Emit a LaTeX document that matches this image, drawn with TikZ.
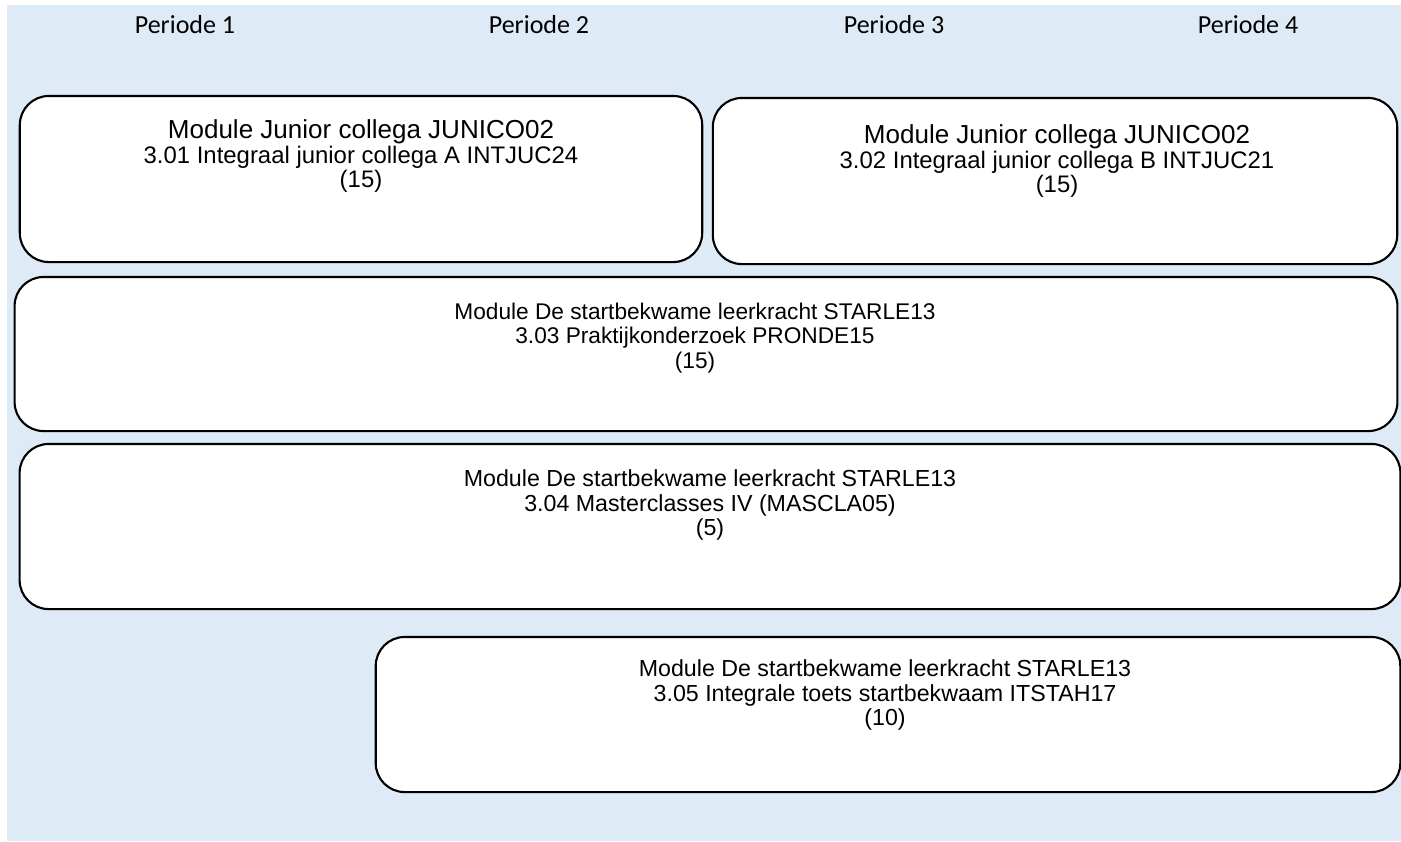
\documentclass[tikz,border=0pt]{standalone}
\usepackage{fontspec}
\setmainfont{Liberation Sans}
\newfontfamily\periodefont{Carlito}
\usetikzlibrary{positioning}
\definecolor{bgblue}{RGB}{222,234,246}
\newcommand{\boxline}{.6pt}
\newcommand{\bigtext}{\fontsize{7.4}{7}\selectfont}
\newcommand{\midtext}{\fontsize{6.8}{7}\selectfont}
\newcommand{\smalltext}{\fontsize{6.6}{7}\selectfont}

\begin{document}
\begin{tikzpicture}[x=.01cm,y=-.01cm,
    module/.style={draw, fill=white, line width=\boxline, rounded corners=.29cm, inner sep=0pt},
    modtext/.style={anchor=north, align=center, inner sep=0pt, font=\smalltext},
    periode/.style={anchor=base, font=\periodefont\fontsize{7.4}{8}\selectfont}]
      \useasboundingbox (0,0) rectangle (1401,841);
      \fill[bgblue] (7,5) rectangle (1401,841);

      % periodes
        \foreach \p/\x in {1/185,2/539,3/894,4/1248}
          \node (periode\p) at (\x,33) [periode] {Periode \p};

      % modules
        \node (junA) at (361,179) [module, minimum width=6.82cm, minimum height=1.66cm] {};
        \node (junB) at (1055,181) [module, minimum width=6.84cm, minimum height=1.66cm] {};
        \node (pronde) at (706,354) [module, minimum width=13.82cm, minimum height=1.54cm] {};
        \node (mascla) at (710,526.5) [module, minimum width=13.80cm, minimum height=1.65cm] {};
        \node (itstah) at (888,714.5) [module, minimum width=10.24cm, minimum height=1.55cm] {};

        \node (junAtext) at (361,119) [modtext, font=\midtext] {{\bigtext Module Junior collega JUNICO02}\\3.01 Integraal junior collega A INTJUC24\\(15)};
        \node (junBtext) at (1057,124) [modtext, font=\midtext] {{\bigtext Module Junior collega JUNICO02}\\3.02 Integraal junior collega B INTJUC21\\(15)};
        \node (prondetext) at (695,302) [modtext, font=\fontsize{6.45}{7}\selectfont] {Module De startbekwame leerkracht STARLE13\\3.03 Praktijkonderzoek PRONDE15\\(15)};
        \node (masclatext) at (710,469) [modtext] {Module De startbekwame leerkracht STARLE13\\3.04 Masterclasses IV (MASCLA05)\\(5)};
        \node (itstahtext) at (885,659) [modtext] {Module De startbekwame leerkracht STARLE13\\3.05 Integrale toets startbekwaam ITSTAH17\\(10)};
\end{tikzpicture}
\end{document}
